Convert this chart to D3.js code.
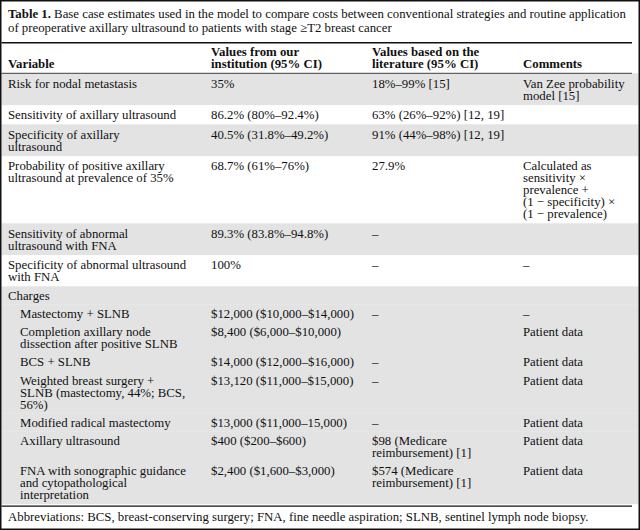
<!DOCTYPE html>
<html><head><meta charset="utf-8">
<script src="https://cdn.jsdelivr.net/npm/d3@7/dist/d3.min.js"></script>
<style>
body{margin:0;background:#fff}
text{font-family:"Liberation Serif","Times New Roman",serif;fill:#111}
</style>
</head><body>
<svg id="chart" width="640" height="530"></svg>
<script>
// ---------- data ----------
const captionLabel = "Table 1.";
const captionLines = [
  "Base case estimates used in the model to compare costs between conventional strategies and routine application",
  "of preoperative axillary ultrasound to patients with stage \u2265T2 breast cancer"
];
const headers = [
  ["Variable"],
  ["Values from our", "institution (95% CI)"],
  ["Values based on the", "literature (95% CI)"],
  ["Comments"]
];
const variables = [
  ["Risk for nodal metastasis"],
  ["Sensitivity of axillary ultrasound"],
  ["Specificity of axillary", "ultrasound"],
  ["Probability of positive axillary", "ultrasound at prevalence of 35%"],
  ["Sensitivity of abnormal", "ultrasound with FNA"],
  ["Specificity of abnormal ultrasound", "with FNA"],
  ["Charges"],
  ["Mastectomy + SLNB"],
  ["Completion axillary node", "dissection after positive SLNB"],
  ["BCS + SLNB"],
  ["Weighted breast surgery +", "SLNB (mastectomy, 44%; BCS,", "56%)"],
  ["Modified radical mastectomy"],
  ["Axillary ultrasound"],
  ["FNA with sonographic guidance", "and cytopathological", "interpretation"]
];
const institutionValues = [
  ["35%"],
  ["86.2% (80%\u201392.4%)"],
  ["40.5% (31.8%\u201349.2%)"],
  ["68.7% (61%\u201376%)"],
  ["89.3% (83.8%\u201394.8%)"],
  ["100%"],
  [],
  ["$12,000 ($10,000\u2013$14,000)"],
  ["$8,400 ($6,000\u2013$10,000)"],
  ["$14,000 ($12,000\u2013$16,000)"],
  ["$13,120 ($11,000\u2013$15,000)"],
  ["$13,000 ($11,000\u201315,000)"],
  ["$400 ($200\u2013$600)"],
  ["$2,400 ($1,600\u2013$3,000)"]
];
const literatureValues = [
  ["18%\u201399% [15]"],
  ["63% (26%\u201392%) [12, 19]"],
  ["91% (44%\u201398%) [12, 19]"],
  ["27.9%"],
  ["\u2013"],
  ["\u2013"],
  [],
  ["\u2013"],
  [],
  ["\u2013"],
  ["\u2013"],
  ["\u2013"],
  ["$98 (Medicare", "reimbursement) [1]"],
  ["$574 (Medicare", "reimbursement) [1]"]
];
const comments = [
  ["Van Zee probability", "model [15]"],
  [],
  [],
  ["Calculated as", "sensitivity \u00d7", "prevalence +", "(1 \u2212 specificity) \u00d7", "(1 \u2212 prevalence)"],
  [],
  ["\u2013"],
  [],
  ["\u2013"],
  ["Patient data"],
  ["Patient data"],
  ["Patient data"],
  ["Patient data"],
  ["Patient data"],
  ["Patient data"]
];
const subRow = [false,false,false,false,false,false,true,true,true,true,true,true,true,true];
const indentedRow = [false,false,false,false,false,false,false,true,true,true,true,true,true,true];
const shadedRow = [true,false,true,false,true,false,true,true,true,true,true,true,true,true];
const footnote = "Abbreviations: BCS, breast-conserving surgery; FNA, fine needle aspiration; SLNB, sentinel lymph node biopsy.";

// ---------- layout ----------
const W = 640, H = 530;
const FS = 12.8, LH = 12, PAD_MAIN = 7.5, PAD_SUB = 6.2;
const svg = d3.select("#chart");
const colX = d3.scaleOrdinal().domain([0,1,2,3]).range([8, 211, 372, 523]);
const indent = 12;

// caption
const cap = svg.append("g").style("font-size", FS + "px");
const c1 = cap.append("text").attr("x", 8).attr("y", 18);
c1.append("tspan").attr("font-weight", "bold").text(captionLabel);
c1.append("tspan").text("  " + captionLines[0]);
cap.append("text").attr("x", 8).attr("y", 32).text(captionLines[1]);

// rows geometry
const cols = [variables, institutionValues, literatureValues, comments];
const nLines = variables.map((_, i) => d3.max(cols, c => c[i].length) || 1);
const headerBottom = 73.3;
let y = headerBottom;
const rows = nLines.map((n, i) => {
  const pad = subRow[i] ? PAD_SUB : PAD_MAIN;
  const h = n * LH + pad;
  const r = {i, top: y, h, n, pad};
  y += h;
  return r;
});
const tableBottom = y;

// shading
svg.append("g").selectAll("rect").data(rows.filter(r => shadedRow[r.i])).join("rect")
  .attr("x", 1.5).attr("width", W - 3)
  .attr("y", r => r.top).attr("height", r => r.h + 0.3)
  .attr("fill", "#e3e3e3");

// multi-line cell helper
function cell(g, x, yFirst, lines) {
  if (!lines.length) return;
  const t = g.append("text").attr("x", x).attr("y", yFirst);
  lines.forEach((s, li) => {
    t.append("tspan").attr("x", x).attr("y", yFirst + li * LH).attr("dy", "0.35em").text(s);
  });
}

// header text
const hg = svg.append("g").style("font-size", FS + "px").attr("font-weight", "bold");
headers.forEach((lines, ci) => {
  cell(hg, colX(ci), 63.5 - (lines.length - 1) * LH, lines);
});

// body text
const bg = svg.append("g").style("font-size", FS + "px");
rows.forEach(r => {
  cols.forEach((col, ci) => {
    const x = colX(ci) + (ci === 0 && indentedRow[r.i] ? indent : 0);
    cell(bg, x, r.top + r.pad / 2 + LH / 2, col[r.i]);
  });
});

// rules
svg.append("line").attr("x1", 1.5).attr("x2", 632).attr("y1", 42.7).attr("y2", 42.7)
  .attr("stroke", "#111").attr("stroke-width", 1.4);
svg.append("line").attr("x1", 1.5).attr("x2", 632).attr("y1", headerBottom).attr("y2", headerBottom)
  .attr("stroke", "#111").attr("stroke-width", 0.8);
svg.append("line").attr("x1", 1.5).attr("x2", 632).attr("y1", tableBottom + 2.2).attr("y2", tableBottom + 2.2)
  .attr("stroke", "#111").attr("stroke-width", 1.4);

// footnote
svg.append("text").style("font-size", FS + "px").attr("x", 8).attr("y", tableBottom + 13).attr("dy", "0.35em").text(footnote);

// frame
svg.append("rect").attr("x", 0.75).attr("y", 0.75).attr("width", W - 1.5).attr("height", H - 1.5)
  .attr("fill", "none").attr("stroke", "#111").attr("stroke-width", 1.5);
</script>
</body></html>
